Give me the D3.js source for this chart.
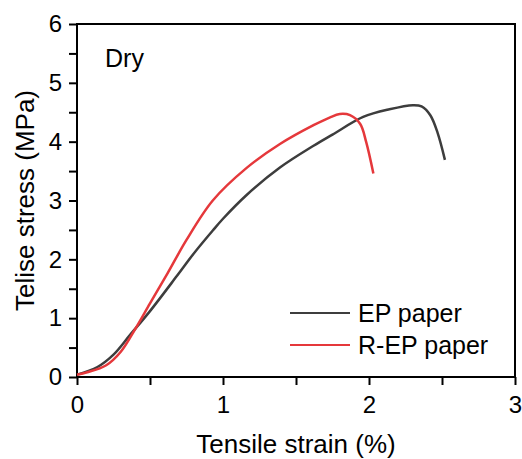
<!DOCTYPE html>
<meta charset="utf-8">
<style>
body { margin: 0; background: #fff; }
text { font-family: "Liberation Sans", Arial, sans-serif; }
</style>
<body>
<script src="https://cdn.jsdelivr.net/npm/d3@7"></script>
<script>
// data: [strain %, stress MPa]
var epStrain  = [0, 0.14, 0.25, 0.365, 0.5, 0.685, 0.8, 0.93, 1.0, 1.16, 1.39, 1.62, 1.75, 1.96, 2.14, 2.3, 2.36, 2.42, 2.47, 2.52];
var epStress  = [0.04, 0.17, 0.38, 0.72, 1.12, 1.72, 2.1, 2.49, 2.69, 3.09, 3.56, 3.93, 4.12, 4.42, 4.55, 4.62, 4.6, 4.45, 4.15, 3.69];
var repStrain = [0, 0.07, 0.2, 0.3, 0.4, 0.5, 0.62, 0.75, 0.93, 1.16, 1.39, 1.62, 1.73, 1.8, 1.87, 1.94, 1.98, 2.03];
var repStress = [0.04, 0.08, 0.2, 0.43, 0.82, 1.25, 1.76, 2.33, 3.0, 3.55, 3.96, 4.28, 4.41, 4.47, 4.45, 4.3, 4.0, 3.46];
var xTicks = [0, 1, 2, 3];
var yTicks = [0, 1, 2, 3, 4, 5, 6];
var seriesNames = ["EP paper", "R-EP paper"];
var seriesColors = ["#3d3d3d", "#e5383b"];

var margin = {top: 24, right: 7, bottom: 82, left: 77},
    W = 522, H = 459,
    width = W - margin.left - margin.right,
    height = H - margin.top - margin.bottom;

var svg = d3.select("body").append("svg")
    .attr("width", W)
    .attr("height", H);
var g = svg.append("g")
    .attr("transform", "translate(" + margin.left + "," + margin.top + ")");

var x = d3.scaleLinear().domain([0, 3]).range([0, width]);
var y = d3.scaleLinear().domain([0, 6]).range([height, 0]);

// axes with major + minor ticks
var xAxis = g.append("g")
    .attr("transform", "translate(0," + height + ")")
    .call(d3.axisBottom(x).tickValues(d3.range(0, 3.01, 0.5)).tickSize(8).tickPadding(11)
      .tickFormat(function(d) { return xTicks.indexOf(d) >= 0 ? d : ""; }));
var yAxis = g.append("g")
    .call(d3.axisLeft(y).tickValues(d3.range(0, 6.01, 0.5)).tickSize(8).tickPadding(7)
      .tickFormat(function(d) { return yTicks.indexOf(d) >= 0 ? d : ""; }));

[xAxis, yAxis].forEach(function(a) {
  a.select(".domain").remove();
  a.selectAll("line").attr("stroke", "#000").attr("stroke-width", 2);
  a.selectAll("text").attr("font-size", 24).attr("fill", "#000")
    .style("font-family", "'Liberation Sans', Arial, sans-serif");
});

// frame
g.append("rect")
    .attr("x", 0).attr("y", 0)
    .attr("width", width).attr("height", height)
    .attr("fill", "none").attr("stroke", "#000").attr("stroke-width", 2);

var line = d3.line()
    .x(function(d) { return x(d[0]); })
    .y(function(d) { return y(d[1]); })
    .curve(d3.curveCatmullRom.alpha(0.5));

var series = [
  d3.zip(epStrain, epStress),
  d3.zip(repStrain, repStress)
];

series.forEach(function(s, i) {
  g.append("path")
      .datum(s)
      .attr("fill", "none")
      .attr("stroke", seriesColors[i])
      .attr("stroke-width", 2.5)
      .attr("d", line);
});

// legend
var leg = g.append("g").attr("transform", "translate(213,289)");
seriesNames.forEach(function(n, i) {
  leg.append("line")
      .attr("x1", 0).attr("x2", 60)
      .attr("y1", i * 32).attr("y2", i * 32)
      .attr("stroke", seriesColors[i]).attr("stroke-width", 2);
  leg.append("text")
      .attr("x", 68).attr("y", i * 32 + 9)
      .attr("font-size", 25)
      .text(n);
});

g.append("text")
    .attr("x", 28).attr("y", 43)
    .attr("font-size", 25)
    .text("Dry");

// axis titles
svg.append("text")
    .attr("x", margin.left + width / 2).attr("y", 453)
    .attr("text-anchor", "middle")
    .attr("font-size", 26)
    .text("Tensile strain (%)");
svg.append("text")
    .attr("transform", "translate(34," + (margin.top + height / 2) + ") rotate(-90)")
    .attr("text-anchor", "middle")
    .attr("font-size", 26)
    .text("Telise stress (MPa)");
</script>
</body>
